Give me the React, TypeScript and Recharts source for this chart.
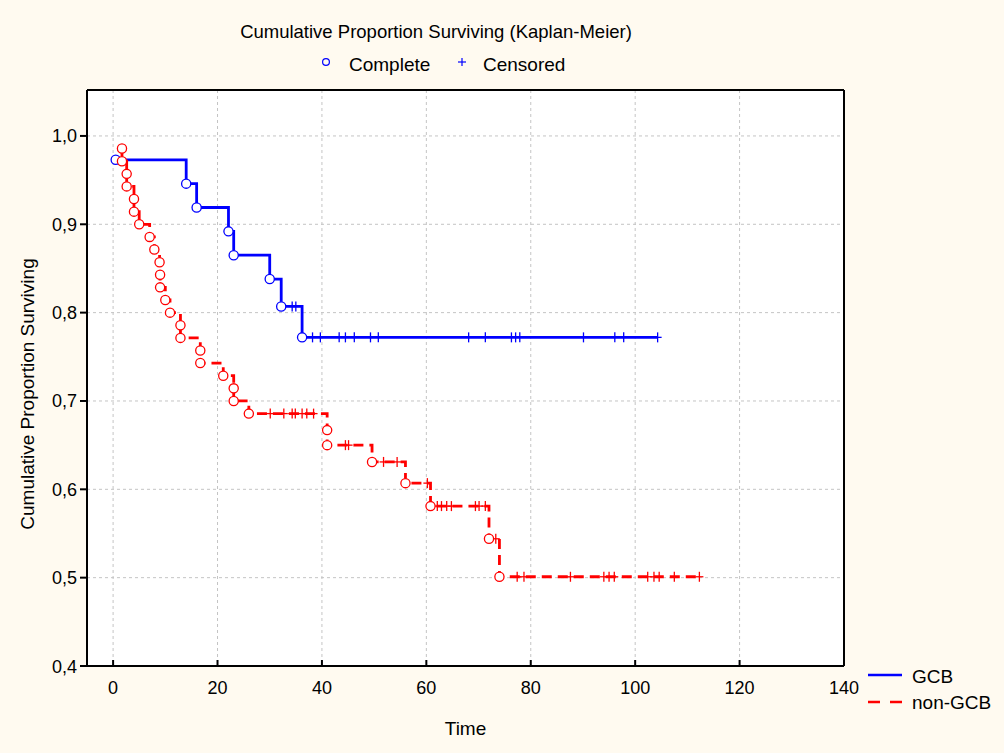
import React from "react";
import { ComposedChart, Line, Scatter, XAxis, YAxis, CartesianGrid } from "recharts";

// GCB group: event (complete) times and survival after each event
const gcbEventTimes = [0.5, 14.0, 16.0, 22.1, 23.1, 30.0, 32.2, 36.2];
const gcbEventSurv = [0.973, 0.946, 0.919, 0.892, 0.865, 0.838, 0.807, 0.772];
const gcbCensorTimes = [
  34.3, 35.0, 38.2, 39.7, 43.3, 44.5, 46.2, 49.3, 50.8, 68.1, 71.3, 76.3, 77.1, 77.9, 90.1, 96.1, 97.8, 104.3,
];

// non-GCB group
const nonEventTimes = [
  1.7, 1.7, 2.6, 2.6, 4.0, 4.0, 5.0, 7.0, 7.9, 8.9, 9.0, 9.0, 10.0, 10.9, 12.9, 12.9, 16.7, 16.7, 21.1, 23.1,
  23.1, 26.0, 41.0, 41.0, 49.6, 56.0, 60.8, 72.0, 74.0,
];
const nonEventSurv = [
  0.9857, 0.9714, 0.9571, 0.9429, 0.9286, 0.9143, 0.9, 0.8857, 0.8714, 0.8571, 0.8429, 0.8286, 0.8143, 0.8,
  0.7857, 0.7714, 0.7571, 0.7429, 0.7286, 0.7143, 0.7, 0.6857, 0.667, 0.65, 0.631, 0.607, 0.581, 0.544, 0.501,
];
const nonCensorTimes = [
  30.1, 32.7, 34.3, 34.9, 36.2, 37.1, 38.4, 44.5, 45.1, 51.8, 54.4, 60.2, 62.1, 62.9, 63.9, 64.8, 69.4, 70.1,
  71.3, 73.3, 77.4, 78.7, 87.6, 94.0, 95.0, 96.0, 102.4, 103.6, 104.6, 107.5, 112.3,
];

const xTicks = [0, 20, 40, 60, 80, 100, 120, 140];
const yTicks = [0.4, 0.5, 0.6, 0.7, 0.8, 0.9, 1.0];

const FONT = "'Liberation Sans', Arial, sans-serif";
const BLUE = "#0000ff";
const RED = "#ff0000";

// survival value of the step curve at time t
const survAt = (times: number[], surv: number[], t: number) => {
  let v = surv[0];
  times.forEach((tt, i) => {
    if (tt <= t) v = surv[i];
  });
  return v;
};

const buildLine = (times: number[], surv: number[], censor: number[]) => {
  const pts = times.map((t, i) => ({ t, s: surv[i] }));
  pts.push({ t: censor[censor.length - 1], s: surv[surv.length - 1] });
  return pts;
};

const buildPoints = (times: number[], surv: number[]) => times.map((t, i) => ({ t, s: surv[i] }));

const buildCensor = (times: number[], surv: number[], censor: number[]) =>
  censor.map((t) => ({ t, s: survAt(times, surv, t) }));

const gcbLine = buildLine(gcbEventTimes, gcbEventSurv, gcbCensorTimes);
const nonLine = buildLine(nonEventTimes, nonEventSurv, nonCensorTimes);
const gcbEvents = buildPoints(gcbEventTimes, gcbEventSurv);
const nonEvents = buildPoints(nonEventTimes, nonEventSurv);
const gcbCensored = buildCensor(gcbEventTimes, gcbEventSurv, gcbCensorTimes);
const nonCensored = buildCensor(nonEventTimes, nonEventSurv, nonCensorTimes);

const circleShape = (color: string) => (props: any) =>
  <circle cx={props.cx} cy={props.cy} r={4.6} fill="#fff" stroke={color} strokeWidth={1.3} />;

const plusShape = (color: string) => (props: any) => {
  const { cx, cy } = props;
  return (
    <g stroke={color} strokeWidth={1.3}>
      <line x1={cx - 4} y1={cy} x2={cx + 4} y2={cy} />
      <line x1={cx} y1={cy - 5} x2={cx} y2={cy + 5} />
    </g>
  );
};

const BottomTick = (props: any) => {
  const { x, y, payload } = props;
  return (
    <g>
      <line x1={x} y1={y} x2={x} y2={y - 6} stroke="#000" strokeWidth={2} />
      <text x={x} y={y + 28} textAnchor="middle" fontSize={18} fontFamily={FONT} fill="#000">
        {payload.value}
      </text>
    </g>
  );
};

const TopTick = (props: any) => {
  const { x, y } = props;
  return <line x1={x} y1={y} x2={x} y2={y + 6} stroke="#000" strokeWidth={2} />;
};

const LeftTick = (props: any) => {
  const { x, y, payload } = props;
  return (
    <text x={x} y={y + 6.5} textAnchor="end" fontSize={18} fontFamily={FONT} fill="#000">
      {payload.value.toFixed(1).replace(".", ",")}
    </text>
  );
};

export default function App() {
  return (
    <div style={{ position: "absolute", left: 0, top: 0, width: 1004, height: 753, background: "#fffaf0" }}>
      <ComposedChart width={1004} height={753} margin={{ top: 60, right: 140, bottom: 47, left: 27 }}>
        <CartesianGrid stroke="#c4c4c4" strokeDasharray="3 3" fill="#fff" />
        <XAxis
          dataKey="t"
          type="number"
          domain={[-5, 140]}
          ticks={xTicks}
          allowDataOverflow
          height={40}
          axisLine={{ stroke: "#000", strokeWidth: 2 }}
          tickLine={false}
          tickSize={0}
          tickMargin={0}
          tick={<BottomTick />}
          interval={0}
        />
        <XAxis
          xAxisId="top"
          orientation="top"
          type="number"
          domain={[-5, 140]}
          ticks={xTicks}
          allowDataOverflow
          height={30}
          axisLine={{ stroke: "#000", strokeWidth: 2 }}
          tickLine={false}
          tickSize={0}
          tickMargin={0}
          tick={<TopTick />}
          interval={0}
        />
        <YAxis
          dataKey="s"
          type="number"
          domain={[0.4, 1.052]}
          ticks={yTicks}
          allowDataOverflow
          width={60}
          axisLine={{ stroke: "#000", strokeWidth: 2 }}
          tickLine={{ stroke: "#000", strokeWidth: 2 }}
          tickSize={7}
          tickMargin={3}
          tick={<LeftTick />}
          interval={0}
        />
        <YAxis
          yAxisId="right"
          orientation="right"
          type="number"
          domain={[0.4, 1.052]}
          ticks={yTicks}
          allowDataOverflow
          width={20}
          axisLine={{ stroke: "#000", strokeWidth: 2 }}
          tick={false}
          tickLine={false}
        />
        <Line
          data={gcbLine}
          dataKey="s"
          type="stepAfter"
          stroke={BLUE}
          strokeWidth={2.8}
          dot={false}
          activeDot={false}
          isAnimationActive={false}
        />
        <Line
          data={nonLine}
          dataKey="s"
          type="stepAfter"
          stroke={RED}
          strokeWidth={2.8}
          strokeDasharray="10 6"
          dot={false}
          activeDot={false}
          isAnimationActive={false}
        />
        <Scatter data={gcbCensored} dataKey="s" shape={plusShape(BLUE)} isAnimationActive={false} />
        <Scatter data={nonCensored} dataKey="s" shape={plusShape(RED)} isAnimationActive={false} />
        <Scatter data={gcbEvents} dataKey="s" shape={circleShape(BLUE)} isAnimationActive={false} />
        <Scatter data={nonEvents} dataKey="s" shape={circleShape(RED)} isAnimationActive={false} />
      </ComposedChart>
      <svg
        width={1004}
        height={753}
        style={{ position: "absolute", left: 0, top: 0, pointerEvents: "none" }}
        fontFamily={FONT}
      >
        <text x={436} y={38} textAnchor="middle" fontSize={18.5} fill="#000">
          Cumulative Proportion Surviving (Kaplan-Meier)
        </text>
        <circle cx={326} cy={62} r={3.4} fill="none" stroke={BLUE} strokeWidth={1.2} />
        <text x={349} y={71} fontSize={19} fill="#000">
          Complete
        </text>
        <g stroke={BLUE} strokeWidth={1.2}>
          <line x1={458} y1={62} x2={466} y2={62} />
          <line x1={462} y1={58} x2={462} y2={66} />
        </g>
        <text x={483} y={71} fontSize={19} fill="#000">
          Censored
        </text>
        <text x={465.5} y={735} textAnchor="middle" fontSize={19} fill="#000">
          Time
        </text>
        <text x={34} y={394} textAnchor="middle" fontSize={19} fill="#000" transform="rotate(-90 34 394)">
          Cumulative Proportion Surviving
        </text>
        <line x1={868} y1={675} x2={902} y2={675} stroke={BLUE} strokeWidth={2.6} />
        <text x={912} y={683} fontSize={19} fill="#000">
          GCB
        </text>
        <line x1={868} y1={702} x2={902} y2={702} stroke={RED} strokeWidth={2.6} strokeDasharray="12 10" />
        <text x={912} y={709} fontSize={19} fill="#000">
          non-GCB
        </text>
      </svg>
    </div>
  );
}
